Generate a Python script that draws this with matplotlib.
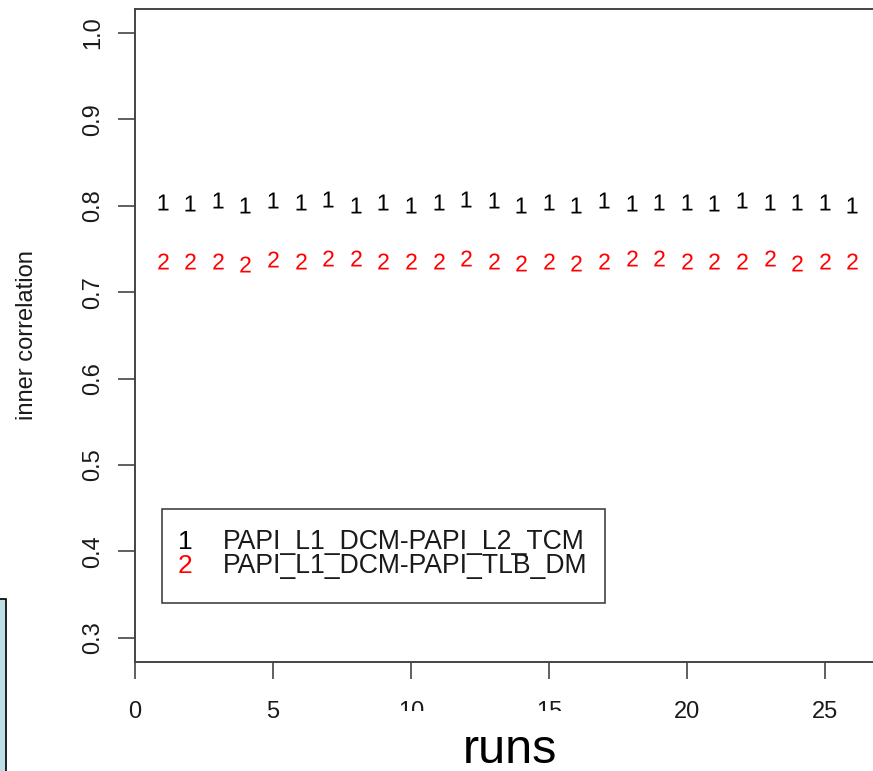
import matplotlib
matplotlib.use('Agg')
import matplotlib.pyplot as plt
from matplotlib.patches import Rectangle

# 字体: R 默认的 Helvetica 用 Liberation Sans 代替
plt.rcParams['font.family'] = ['Liberation Sans', 'DejaVu Sans']
plt.rcParams['mathtext.fontset'] = 'custom'
plt.rcParams['mathtext.rm'] = 'Liberation Sans'

# 数据
runs = [1, 2, 3, 4, 5, 6, 7, 8, 9, 10, 11, 12, 13,
        14, 15, 16, 17, 18, 19, 20, 21, 22, 23, 24, 25, 26]
corr_l2 = [0.8039, 0.8033, 0.8062, 0.8010, 0.8062, 0.8039, 0.8074, 0.8010, 0.8039,
           0.8010, 0.8039, 0.8074, 0.8068, 0.8010, 0.8039, 0.8010, 0.8062, 0.8033,
           0.8039, 0.8039, 0.8033, 0.8068, 0.8039, 0.8039, 0.8039, 0.8010]
corr_tlb = [0.7359, 0.7359, 0.7359, 0.7325, 0.7383, 0.7359, 0.7389, 0.7389, 0.7359,
            0.7359, 0.7359, 0.7389, 0.7359, 0.7331, 0.7359, 0.7331, 0.7359, 0.7389,
            0.7389, 0.7359, 0.7359, 0.7359, 0.7389, 0.7331, 0.7359, 0.7359]
series_labels = ['PAPI_L1_DCM-PAPI_L2_TCM', 'PAPI_L1_DCM-PAPI_TLB_DM']
series_symbols = ['1', '2']
series_colors = ['black', '#ff0000']
x_ticks = [0, 5, 10, 15, 20, 25]
y_ticks = [0.3, 0.4, 0.5, 0.6, 0.7, 0.8, 0.9, 1.0]

W, H = 873, 771
fig = plt.figure(figsize=(W / 100, H / 100), dpi=100)
ax = fig.add_axes([135 / W, 109 / H, 745 / W, 653.4 / H])

# 散点 (用数字作为标记, 类似 R 的 matplot)
for vals, sym, col in zip([corr_l2, corr_tlb], series_symbols, series_colors):
    ax.plot(runs, vals, linestyle='none', marker=r'$\mathrm{%s}$' % sym,
            ms=11.5, mew=0, color=col)

ax.set_xlim(0, 27)
ax.set_ylim(0.272, 1.028)
ax.set_xticks(x_ticks)
ax.set_xticklabels([str(t) for t in x_ticks])
ax.set_yticks(y_ticks)
ax.set_yticklabels([f'{t:.1f}' for t in y_ticks], rotation=90, va='center')

ax.tick_params(direction='out', length=12, width=1.2, color='#444444',
               labelsize=17, labelcolor='#1a1a1a')
ax.tick_params(axis='x', pad=16)
ax.tick_params(axis='y', pad=10)
for s in ax.spines.values():
    s.set_color('#444444')
    s.set_linewidth(1.4)

ax.set_ylabel('inner correlation', fontsize=17, color='#1a1a1a')
ax.yaxis.set_label_coords(-0.130, 0.5)

# 图例 (R 风格的方框)
lx0, ly0, lx1, ly1 = 0.0362, 0.0903, 0.6309, 0.2342
ax.add_patch(Rectangle((lx0, ly0), lx1 - lx0, ly1 - ly0, transform=ax.transAxes,
                       facecolor='white', edgecolor='#333333', lw=1.1, zorder=5))
for i, (sym, lab, col) in enumerate(zip(series_symbols, series_labels, series_colors)):
    yb = 0.1729 - i * 0.0367
    ax.text(0.0671, yb, sym, color=col, ha='center', va='baseline', fontsize=19,
            transform=ax.transAxes, zorder=6)
    ax.text(0.1181, yb, lab, color='#1a1a1a', ha='left', va='baseline', fontsize=19.2,
            transform=ax.transAxes, zorder=6)

# 幻灯片上的覆盖元素
fig.add_artist(Rectangle((-10 / W, -10 / H), 16 / W, (771 - 599 + 10) / H,
                         transform=fig.transFigure, facecolor='#bee0e4',
                         edgecolor='black', lw=1.2, zorder=10))
fig.add_artist(Rectangle((360 / W, -1 / H), 280 / W, 61 / H, transform=fig.transFigure,
                         facecolor='white', edgecolor='none', zorder=10))
fig.text(510 / W, 8 / H, 'runs', fontsize=35, ha='center', va='baseline', zorder=11)

fig.savefig('out.png', dpi=100)
